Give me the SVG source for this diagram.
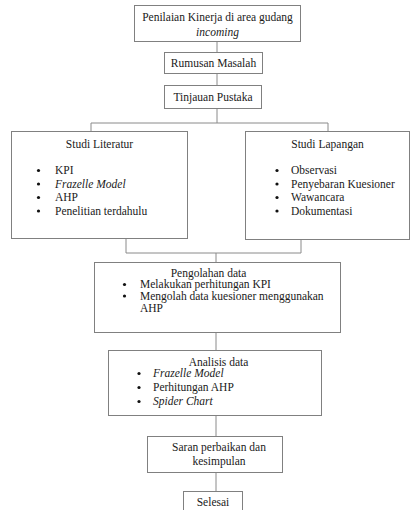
<svg xmlns="http://www.w3.org/2000/svg" width="413" height="510" viewBox="0 0 413 510">
<style>
rect{fill:#fff;stroke:#808080;stroke-width:1}
#connectors line,#connectors polyline{fill:none;stroke:#8a8a8a;stroke-width:1}
text{font-family:"Liberation Serif","Times New Roman",serif;font-size:11.5px;fill:#1a1a1a}
.c{text-anchor:middle}
.i{font-style:italic}
</style>
<rect x="0" y="0" width="413" height="510" style="fill:#fff;stroke:none"/>
<g id="connectors">
<line x1="217" y1="42" x2="217" y2="52"/>
<line x1="217" y1="73" x2="217" y2="85"/>
<polyline points="91,131 91,123 328,123 328,131"/>
<line x1="217" y1="109" x2="217" y2="123"/>
<polyline points="126,239 126,253 301,253 301,240"/>
<line x1="216" y1="253" x2="216" y2="262"/>
<line x1="216" y1="333" x2="216" y2="350"/>
<line x1="216" y1="416" x2="216" y2="436"/>
<line x1="216" y1="473" x2="216" y2="491"/>
</g>
<g id="n1">
<rect x="134.5" y="5.5" width="166" height="36"/>
<text class="c" x="217.5" y="21">Penilaian Kinerja di area gudang</text>
<text class="c i" x="217.5" y="36">incoming</text>
</g>
<g id="n2">
<rect x="164.5" y="52.5" width="98" height="21"/>
<text class="c" x="213.5" y="67">Rumusan Masalah</text>
</g>
<g id="n3">
<rect x="164.5" y="85.5" width="97" height="23"/>
<text class="c" x="213" y="101">Tinjauan Pustaka</text>
</g>
<g id="n4">
<rect x="11.5" y="131.5" width="176" height="107"/>
<text class="c" x="99.5" y="148">Studi Literatur</text>
<g>
<circle cx="38.5" cy="170.5" r="1.6" fill="#111"/>
<circle cx="38.5" cy="184" r="1.6" fill="#111"/>
<circle cx="38.5" cy="197.5" r="1.6" fill="#111"/>
<circle cx="38.5" cy="211" r="1.6" fill="#111"/>
</g>
<text x="55" y="174">KPI</text>
<text class="i" x="55" y="188">Frazelle Model</text>
<text x="55" y="201">AHP</text>
<text x="55" y="214.5">Penelitian terdahulu</text>
</g>
<g id="n5">
<rect x="245.5" y="131.5" width="164" height="108"/>
<text class="c" x="327.5" y="148">Studi Lapangan</text>
<g>
<circle cx="277" cy="170.5" r="1.6" fill="#111"/>
<circle cx="277" cy="184" r="1.6" fill="#111"/>
<circle cx="277" cy="197.5" r="1.6" fill="#111"/>
<circle cx="277" cy="211" r="1.6" fill="#111"/>
</g>
<text x="291" y="174">Observasi</text>
<text x="291" y="188">Penyebaran Kuesioner</text>
<text x="291" y="201">Wawancara</text>
<text x="291" y="214.5">Dokumentasi</text>
</g>
<g id="n6">
<rect x="94.5" y="262.5" width="246" height="70"/>
<text class="c" x="208.5" y="277">Pengolahan data</text>
<circle cx="124.5" cy="284.5" r="1.6" fill="#111"/>
<circle cx="124.5" cy="296" r="1.6" fill="#111"/>
<text x="140" y="288">Melakukan perhitungan KPI</text>
<text x="140" y="299.5">Mengolah data kuesioner menggunakan</text>
<text x="140" y="312">AHP</text>
</g>
<g id="n7">
<rect x="108.5" y="350.5" width="213" height="65"/>
<text class="c" x="218.5" y="366">Analisis data</text>
<circle cx="139" cy="373.5" r="1.6" fill="#111"/>
<circle cx="139" cy="387.5" r="1.6" fill="#111"/>
<circle cx="139" cy="401.5" r="1.6" fill="#111"/>
<text class="i" x="153" y="377">Frazelle Model</text>
<text x="153" y="391">Perhitungan AHP</text>
<text class="i" x="153" y="405">Spider Chart</text>
</g>
<g id="n8">
<rect x="147.5" y="436.5" width="135" height="36"/>
<text class="c" x="219" y="451">Saran perbaikan dan</text>
<text class="c" x="219" y="465">kesimpulan</text>
</g>
<g id="n9">
<rect x="183.5" y="491.5" width="59" height="25"/>
<text class="c" x="213" y="506">Selesai</text>
</g>
</svg>
